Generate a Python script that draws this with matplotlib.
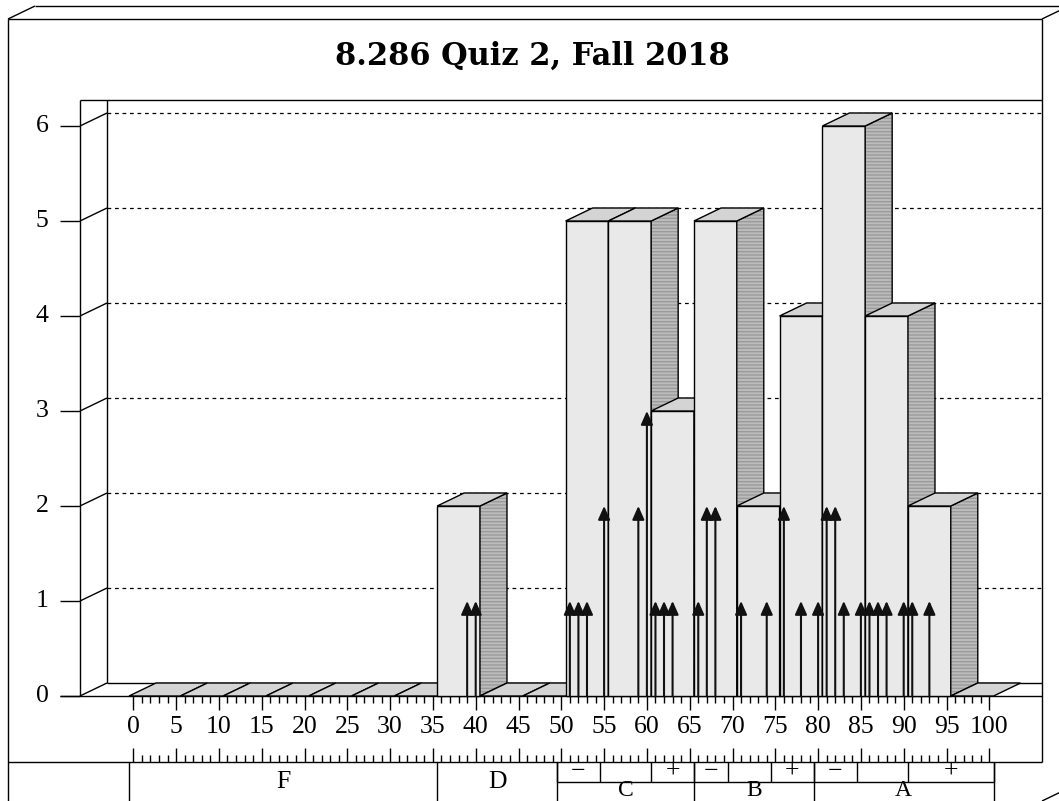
import numpy as np
import matplotlib
matplotlib.use("Agg")
import matplotlib.pyplot as plt
from matplotlib.patches import Polygon

# individual scores (arrows) and how many students got each
scores = [39, 40, 51, 52, 53, 55, 59, 60, 61, 62, 63, 66, 67, 68, 71, 74,
          76, 78, 80, 81, 82, 83, 85, 86, 87, 88, 90, 91, 93]
counts = [1, 1, 1, 1, 1, 2, 2, 3, 1, 1, 1, 1, 2, 2, 1, 1,
          2, 1, 1, 2, 2, 1, 1, 1, 1, 1, 1, 1, 1]

# histogram bins (5 points wide)
bin_edges = [-0.5, 5.5, 10.5, 15.5, 20.5, 25.5, 30.5, 35.5, 40.5, 45.5, 50.5,
             55.5, 60.5, 65.5, 70.5, 75.5, 80.5, 85.5, 90.5, 95.5, 100.5]

# grade scale under the axis
grade_letters = ["F", "D", "C", "B", "A"]
grade_edges = [-0.5, 35.5, 49.5, 65.5, 79.5, 100.5]
sub_edges = [49.5, 54.5, 60.5, 65.5, 69.5, 74.5, 79.5, 84.5, 90.5, 100.5]
sub_marks = ["\u2212", "", "+", "\u2212", "", "+", "\u2212", "", "+"]

x_ticks = list(range(0, 101, 5))
y_ticks = [0, 1, 2, 3, 4, 5, 6]
title = "8.286 Quiz 2, Fall 2018"

heights, _ = np.histogram(scores, bins=bin_edges, weights=counts)

# ---- layout (pixels) ----
W, H = 1059, 801
X0, SX = 133.3, 8.56      # pixel of score 0, pixels per point
Y0, SY = 696.0, 95.0      # pixel of count 0, pixels per student


def ux(px):
    return (px - X0) / SX


def uy(py):
    return (Y0 - py) / SY


DX = 27 / SX   # depth offset
DY = 13 / SY

fig = plt.figure(figsize=(W / 100, H / 100), dpi=100)
ax = fig.add_axes([0, 0, 1, 1])
ax.set_xlim(ux(0), ux(W))
ax.set_ylim(uy(H), uy(0))
ax.axis("off")

LW = 1.0
K = "black"
serif = "Liberation Serif"
FS = 18.5


def line(xs, ys, **kw):
    kw.setdefault("color", K)
    kw.setdefault("lw", LW)
    ax.plot(xs, ys, solid_capstyle="butt", **kw)


# outer frame
line([ux(8), ux(8)], [uy(19), uy(H + 5)])
line([ux(8), ux(1042)], [uy(19), uy(19)])
line([ux(1042), ux(1042)], [uy(19), uy(762)])
line([ux(8), ux(35)], [uy(19), uy(6)])
line([ux(35), ux(W + 5)], [uy(6), uy(6)])
line([ux(1042), ux(1069)], [uy(19), uy(6)])
line([ux(1042), ux(1069)], [uy(801), uy(788)])
line([ux(8), ux(1042)], [uy(762), uy(762)])

ax.text(ux(532), uy(56), title, ha="center", va="center", fontsize=22,
        fontweight="bold", family="DejaVu Serif")

# chart box: left wall, top, floor
left_f, left_b, right = ux(80), ux(107), ux(1042)
top = uy(100)
line([left_f, left_f], [top, 0])
line([left_b, left_b], [top, DY])
line([left_f, right], [top, top])
line([ux(60), right], [0, 0])

for v in y_ticks:
    line([ux(60), left_f], [v, v])
    line([left_f, left_b], [v, v + DY])
    if v == 0:
        line([left_b, right], [DY, DY])
    else:
        line([left_b, right], [v + DY, v + DY], ls=(0, (3, 3)), lw=0.9)
    ax.text(ux(42), v, str(v), ha="center", va="center", fontsize=FS,
            family=serif)

# bars, drawn left to right so later ones hide earlier side faces
FRONT, TOP, SIDE = "#e9e9e9", "#d4d4d4", "#bcbcbc"
for a, b, h in zip(bin_edges[:-1], bin_edges[1:], heights):
    if h > 0:
        ax.add_patch(Polygon([(a, 0), (b, 0), (b, h), (a, h)], closed=True,
                             fc=FRONT, ec=K, lw=LW, zorder=3))
        ax.add_patch(Polygon([(b, 0), (b + DX, DY), (b + DX, h + DY), (b, h)],
                             closed=True, fc=SIDE, ec="#9a9a9a", lw=0,
                             hatch="-----", zorder=3))
        ax.add_patch(Polygon([(b, 0), (b + DX, DY), (b + DX, h + DY), (b, h)],
                             closed=True, fill=False, ec=K, lw=LW, zorder=3))
    ax.add_patch(Polygon([(a, h), (b, h), (b + DX, h + DY), (a + DX, h + DY)],
                         closed=True, fc=TOP, ec=K, lw=LW, zorder=3))

# one arrow per score, as tall as the number of students
for s, c in zip(scores, counts):
    ax.annotate("", xy=(s, c), xytext=(s, 0), zorder=5,
                arrowprops=dict(arrowstyle="-|>,head_length=0.45,head_width=0.2",
                                mutation_scale=18, color="#111111", lw=1.5,
                                shrinkA=0, shrinkB=0))

# rulers
r2 = uy(762)
for t in range(0, 101):
    big = t % 5 == 0
    ln = (14 if big else 7) / SY
    line([t, t], [0, -ln], zorder=4)
    line([t, t], [r2, r2 + ln])
for t in x_ticks:
    ax.text(t, uy(727), str(t), ha="center", va="center", fontsize=FS,
            family=serif)

# grade table
bottom = uy(H + 5)
for e in grade_edges:
    line([e, e], [r2, bottom])
for e in sub_edges:
    line([e, e], [r2, uy(782)])
line([sub_edges[0], sub_edges[-1]], [uy(782), uy(782)])
for m, a, b in zip(sub_marks, sub_edges[:-1], sub_edges[1:]):
    if m:
        ax.text((a + b) / 2, uy(772), m, ha="center", va="center",
                fontsize=FS, family=serif)
for i, g in enumerate(grade_letters):
    a, b = grade_edges[i], grade_edges[i + 1]
    yy = uy(782) if g in ("F", "D") else uy(791)
    ax.text((a + b) / 2, yy, g, ha="center", va="center",
            fontsize=FS if g in ("F", "D") else 17, family=serif)

fig.savefig("out.png", dpi=100)
